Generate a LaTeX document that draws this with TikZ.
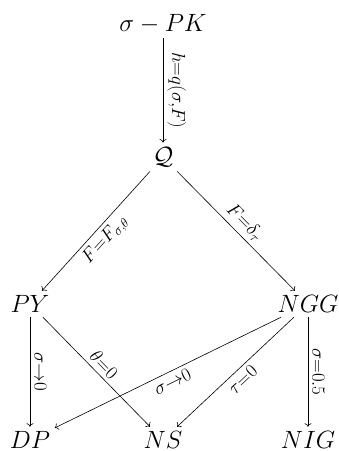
\documentclass[tikz,border=0pt]{standalone}
\usepackage{fix-cm}
\usepackage{amsmath}
\usetikzlibrary{arrows.meta}
\begin{document}
\begin{tikzpicture}[x=1pt,y=1pt,
  cell/.style={inner sep=4.5pt, font=\fontsize{25}{30}\selectfont},
  arr/.style={-{Computer Modern Rightarrow[length=3.5pt,width=7pt]}, line width=0.6pt},
  lab/.style={font=\fontsize{27}{32}\selectfont, inner sep=4pt, midway, sloped}]
\useasboundingbox (0,0) rectangle (339,451);
\node[cell] (spk) at (163,427) {$\sigma-PK$};
\node[cell] (q)   at (163,294) {$\mathcal{Q}$};
\node[cell] (py)  at (30,147)  {$PY$};
\node[cell] (ngg) at (308,147) {$NGG$};
\node[cell] (dp)  at (30,11)   {$DP$};
\node[cell] (ns)  at (163,11)  {$NS$};
\node[cell] (nig) at (308,11)  {$NIG$};
\draw[arr] (spk) -- node[lab,above] {$\scriptstyle h=q(\sigma,F)$} (q);
\draw[arr] (q) -- node[lab,below] {$\scriptstyle F=F_{\sigma,\theta}$} (py);
\draw[arr] (q) -- node[lab,above] {$\scriptstyle F=\delta_{\tau}$} (ngg);
\draw[arr] (py) -- node[lab,above] {$\scriptstyle \sigma\to0$} (dp);
\draw[arr] (py) -- node[lab,above] {$\scriptstyle \theta=0$} (ns);
\draw[arr] (ngg) -- node[lab,below] {$\scriptstyle \sigma\to0$} (dp);
\draw[arr] (ngg) -- node[lab,below] {$\scriptstyle \tau=0$} (ns);
\draw[arr] (ngg) -- node[lab,above] {$\scriptstyle \sigma=0.5$} (nig);
\end{tikzpicture}
\end{document}
